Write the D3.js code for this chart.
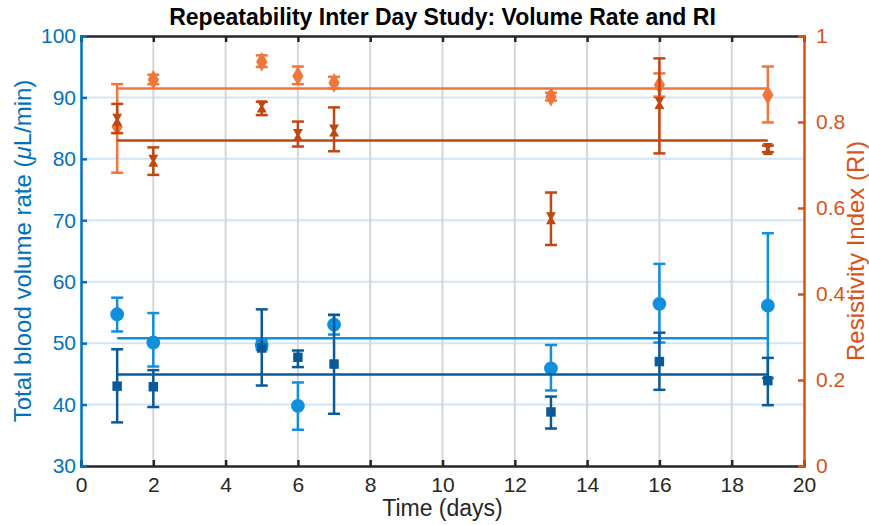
<!DOCTYPE html>
<html>
<head>
<meta charset="utf-8">
<script src="https://cdn.jsdelivr.net/npm/d3@7"></script>
<style>
  body { margin: 0; background: #fff; }
  text { font-family: "Liberation Sans", Arial, sans-serif; }
</style>
</head>
<body>
<div id="chart"></div>
<script>
const days = [1, 2, 5, 6, 7, 13, 16, 19];
const xTicks = [0, 2, 4, 6, 8, 10, 12, 14, 16, 18, 20];
const leftTicks = [30, 40, 50, 60, 70, 80, 90, 100];
const rightTicks = [0, 0.2, 0.4, 0.6, 0.8, 1];

// volume rate, light blue circles
const volA = [54.7, 50.1, 49.7, 39.8, 53.0, 45.9, 56.4, 56.1];
const volALo = [51.9, 46.2, 48.9, 35.9, 51.4, 42.3, 50.1, 44.3];
const volAHi = [57.4, 54.9, 50.6, 43.6, 54.6, 49.7, 62.9, 67.9];
const volAMean = 50.8;
// volume rate, dark blue squares
const volB = [43.0, 42.9, 49.2, 47.7, 46.6, 38.8, 47.0, 43.9];
const volBLo = [37.1, 39.6, 43.1, 46.1, 38.5, 36.1, 42.4, 39.9];
const volBHi = [49.0, 45.6, 55.5, 48.8, 54.6, 41.3, 51.7, 47.6];
const volBMean = 44.9;
// RI, orange diamonds
const riA = [0.789, 0.898, 0.940, 0.907, 0.891, 0.859, 0.886, 0.863];
const riALo = [0.682, 0.888, 0.928, 0.888, 0.878, 0.850, 0.859, 0.799];
const riAHi = [0.888, 0.910, 0.955, 0.929, 0.905, 0.868, 0.913, 0.929];
const riAMean = 0.878;
// RI, dark orange
const riB = [0.805, 0.710, 0.836, 0.770, 0.780, 0.576, 0.844, 0.737];
const riBLo = [0.774, 0.677, 0.816, 0.743, 0.732, 0.514, 0.727, 0.730];
const riBHi = [0.842, 0.741, 0.847, 0.801, 0.834, 0.636, 0.948, 0.745];
const riBMean = 0.757;

const margin = { top: 36, right: 65, bottom: 59, left: 81 };
const width = 869 - margin.left - margin.right;
const height = 525 - margin.top - margin.bottom;

const blueAxis = '#0072BD', orangeAxis = '#D95319';
const cLightBlue = '#0f8fdc', cDarkBlue = '#0a5a9a';
const cOrange = '#f2753a', cDarkOrange = '#c2460f';

const svg = d3.select('#chart')
    .append('svg')
        .attr('width', 869)
        .attr('height', 525);

const g = svg.append('g')
    .attr('transform', `translate(${margin.left}, ${margin.top})`);

const x = d3.scaleLinear().domain([0, 20]).range([0, width]);
const yL = d3.scaleLinear().domain([30, 100]).range([height, 0]);
const yR = d3.scaleLinear().domain([0, 1]).range([height, 0]);

// grid
g.append('g').selectAll('line')
    .data(leftTicks.slice(1, -1))
    .enter().append('line')
        .attr('x1', 0).attr('x2', width)
        .attr('y1', d => yL(d)).attr('y2', d => yL(d))
        .style('stroke', '#d3e5f4').style('stroke-width', 2);
g.append('g').selectAll('line')
    .data(xTicks.slice(1, -1))
    .enter().append('line')
        .attr('x1', d => x(d)).attr('x2', d => x(d))
        .attr('y1', 0).attr('y2', height)
        .style('stroke', '#d6d6d6').style('stroke-width', 2);

// axes, ticks inward
const tickFont = g => g.selectAll('text').style('font-size', '21px');
g.append('g')
    .attr('transform', `translate(0, ${height})`)
    .call(d3.axisBottom(x).tickValues(xTicks).tickSize(-6).tickPadding(11))
    .call(tickFont)
    .call(a => a.selectAll('line,path').style('stroke', '#262626').style('stroke-width', 2.5))
    .call(a => a.selectAll('text').style('fill', '#262626'));
g.append('g')
    .call(d3.axisTop(x).tickValues(xTicks).tickSize(-6).tickFormat(''))
    .call(a => a.selectAll('line,path').style('stroke', '#262626').style('stroke-width', 2.5));
g.append('g')
    .call(d3.axisLeft(yL).tickValues(leftTicks).tickSize(-6).tickPadding(5))
    .call(tickFont)
    .call(a => a.selectAll('line,path').style('stroke', blueAxis).style('stroke-width', 2.5))
    .call(a => a.selectAll('text').style('fill', blueAxis));
g.append('g')
    .attr('transform', `translate(${width}, 0)`)
    .call(d3.axisRight(yR).tickValues(rightTicks).tickSize(-6).tickPadding(12).tickFormat(d3.format('~g')))
    .call(tickFont)
    .call(a => a.selectAll('line,path').style('stroke', orangeAxis).style('stroke-width', 2.5))
    .call(a => a.selectAll('text').style('fill', orangeAxis));

function drawSeries(y, vals, lo, hi, mean, color, symbol) {
    const s = g.append('g');
    s.append('line')
        .attr('x1', x(days[0])).attr('x2', x(days[days.length - 1]))
        .attr('y1', y(mean)).attr('y2', y(mean))
        .style('stroke', color).style('stroke-width', 2.5);
    const pts = s.selectAll('.pt')
        .data(days.map((d, i) => ({ d, v: vals[i], lo: lo[i], hi: hi[i] })))
        .enter().append('g');
    pts.append('line')
        .attr('x1', p => x(p.d)).attr('x2', p => x(p.d))
        .attr('y1', p => y(p.lo)).attr('y2', p => y(p.hi))
        .style('stroke', color).style('stroke-width', 2.5);
    [p => p.lo, p => p.hi].forEach(f => {
        pts.append('line')
            .attr('x1', p => x(p.d) - 6).attr('x2', p => x(p.d) + 6)
            .attr('y1', p => y(f(p))).attr('y2', p => y(f(p)))
            .style('stroke', color).style('stroke-width', 2.5);
    });
    pts.append('path')
        .attr('transform', p => `translate(${x(p.d)}, ${y(p.v)})`)
        .attr('d', symbol)
        .style('fill', color);
}

const hourglass = 'M-5,-6L5,-6L1.5,0L5,6L-5,6L-1.5,0Z';

drawSeries(yL, volA, volALo, volAHi, volAMean, cLightBlue, d3.symbol(d3.symbolCircle, 150)());
drawSeries(yL, volB, volBLo, volBHi, volBMean, cDarkBlue, d3.symbol(d3.symbolSquare, 90)());
drawSeries(yR, riA, riALo, riAHi, riAMean, cOrange, d3.symbol(d3.symbolDiamond, 110)());
drawSeries(yR, riB, riBLo, riBHi, riBMean, cDarkOrange, hourglass);

// labels
svg.append('text')
    .attr('x', margin.left + width / 2).attr('y', 25)
    .attr('text-anchor', 'middle')
    .style('font-size', '23px').style('font-weight', 'bold').style('fill', '#000')
    .text('Repeatability Inter Day Study: Volume Rate and RI');
svg.append('text')
    .attr('x', margin.left + width / 2).attr('y', 516)
    .attr('text-anchor', 'middle')
    .style('font-size', '23px').style('fill', '#262626')
    .text('Time (days)');
svg.append('text')
    .attr('transform', `translate(31, ${margin.top + height / 2}) rotate(-90)`)
    .attr('text-anchor', 'middle')
    .style('font-size', '24px').style('fill', blueAxis)
    .html('Total blood volume rate (<tspan font-style="italic">μ</tspan>L/min)');
svg.append('text')
    .attr('transform', `translate(864, ${margin.top + height / 2}) rotate(-90)`)
    .attr('text-anchor', 'middle')
    .style('font-size', '24px').style('fill', orangeAxis)
    .text('Resistivity Index (RI)');
</script>
</body>
</html>
